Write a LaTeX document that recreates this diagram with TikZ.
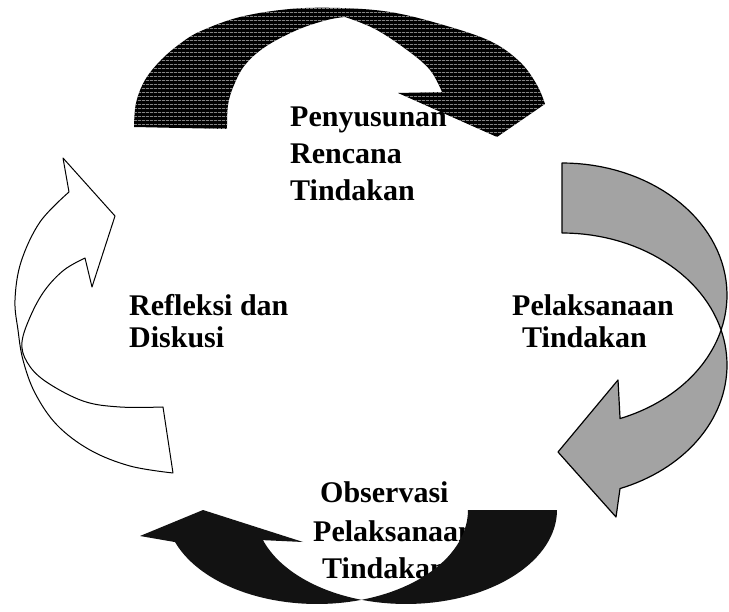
\documentclass[tikz,border=0pt]{standalone}
\usepackage{fontspec}
\setmainfont{Liberation Serif}
\usetikzlibrary{patterns.meta}
\tikzset{
  lbl/.style={font=\fontsize{30}{35}\selectfont\bfseries, inner sep=0pt, anchor=base west},
  toparrow/.style={preaction={fill=black}, pattern={Lines[angle=0,distance=4pt,line width=0.6pt]}, pattern color=white!80!black},
  grayarrow/.style={fill=black!36, draw=black, line width=1.2pt, line join=round},
  botarrow/.style={fill=black!93},
  whitearrow/.style={fill=white, draw=black, line width=1pt, line join=round},
}
\begin{document}
\begin{tikzpicture}[x=1pt,y=-1pt]
\fill[white] (0,0) rectangle (729,612);
\useasboundingbox (0,0) rectangle (729,612);

% top arrow (curved, head pointing down at right)
\path[toparrow]
  plot[smooth, tension=0.6] coordinates {(134,127) (136,103) (145,80) (161,60) (181,43) (201,31) (240,17) (290,9) (340,8) (390,12) (440,24) (490,41) (520,62) (537,85) (545,104)}
  -- (497,137) -- (398,93) --
  plot[smooth, tension=0.6] coordinates {(442,92) (430,70) (407,50) (375,29) (345,17)}
  -- plot[smooth, tension=0.6] coordinates {(345,17) (327,20) (297,30) (265,47) (245,65) (234,85) (228,105) (227,129)}
  -- cycle;

% right gray arrow (head pointing left at bottom)
\path[grayarrow]
  plot[domain=90:-15.4, samples=40] ({562+165*cos(\x)},{295-132*sin(\x)})
  -- plot[domain=15.4:-69.4, samples=40] ({562+165*cos(\x)},{365-132*sin(\x)})
  -- (616,517) -- (558,452) -- (618,380)
  -- plot[domain=-69.4:-15.4, samples=30] ({562+165*cos(\x)},{295-132*sin(\x)})
  -- plot[domain=15.4:90, samples=30] ({562+165*cos(\x)},{365-132*sin(\x)})
  -- cycle;

% left white arrow (head pointing up-right at top)
\path[whitearrow]
  (163,407) -- (173,473)
  -- plot[smooth, tension=0.6] coordinates {(173,473) (130,466) (90,450) (57,425) (35,393) (23,360) (18,330) (15,300) (21,262) (40,222) (69,192)}
  -- (63,158) -- (115,216) -- (92,287) -- (85,258)
  -- plot[smooth, tension=0.6] coordinates {(85,258) (64,270) (45,290) (31,315) (22,342) (27,362) (45,381) (83,401) (120,407) (163,407)}
  -- cycle;

% texts
\node[lbl] (t1a) at (290,127) {Penyusunan};
\node[lbl] (t1b) at (290,164) {Rencana};
\node[lbl] (t1c) at (290,201) {Tindakan};
\node[lbl] (t2a) at (129,316) {Refleksi dan};
\node[lbl] (t2b) at (129,348) {Diskusi};
\node[lbl] (t3a) at (512,316) {Pelaksanaan};
\node[lbl] (t3b) at (522,348) {Tindakan};
\node[lbl] (t4a) at (320,502) {Observasi};
\node[lbl] (t4b) at (313,541) {Pelaksanaan};
\node[lbl] (t4c) at (322,578) {Tindakan};

% bottom dark arrow (head pointing up at left)
\path[botarrow]
  plot[domain=199.95:287.1, samples=40] ({317+151*cos(\x)},{510-94*sin(\x)})
  -- plot[domain=252.9:360, samples=40] ({406+151*cos(\x)},{510-94*sin(\x)})
  -- plot[domain=360:287.1, samples=30] ({317+151*cos(\x)},{510-94*sin(\x)})
  -- plot[domain=252.9:198.7, samples=30] ({406+151*cos(\x)},{510-94*sin(\x)})
  -- (303,542) -- (203,510) -- (140,536) -- cycle;
\end{tikzpicture}
\end{document}
